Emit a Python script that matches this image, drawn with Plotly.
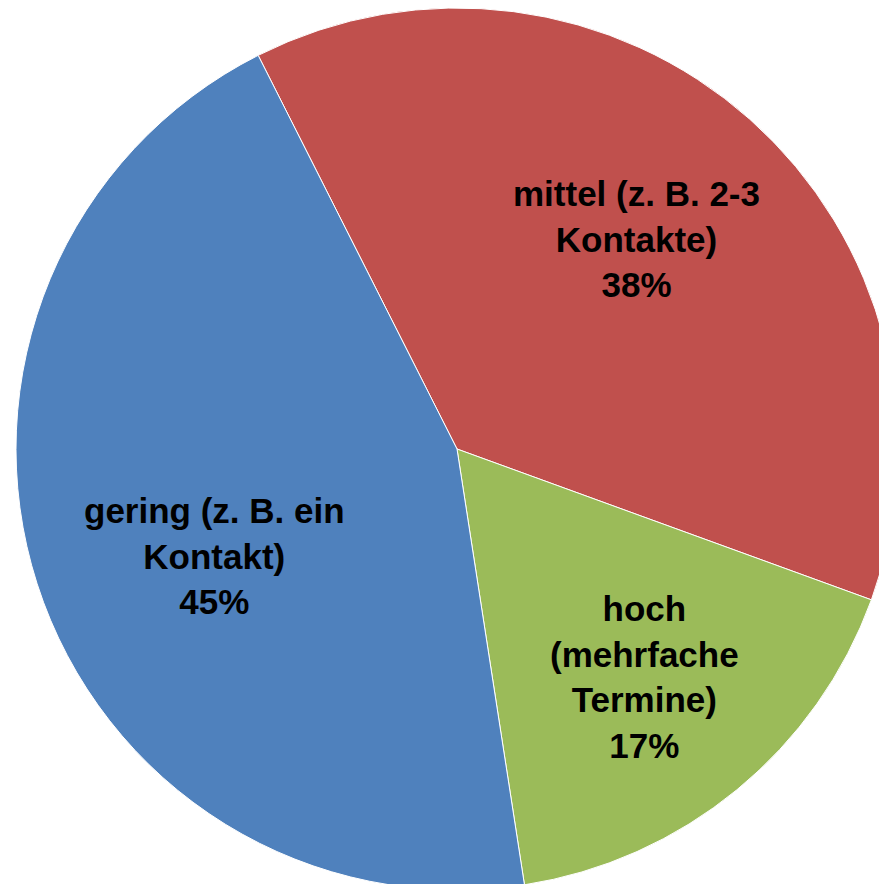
import math
import plotly.graph_objects as go

labels = ["mittel (z. B. 2-3<br>Kontakte)", "hoch<br>(mehrfache<br>Termine)", "gering (z. B. ein<br>Kontakt)"]
values = [38, 17, 45]
colors = ["#C0504D", "#9BBB59", "#4F81BD"]

# layout geometry (pixels)
W, H = 898, 890
ML, MT = 16, 8
PLOT = 882
START = -26.8           # degrees clockwise from 12 o'clock
label_r = [0.627, 0.67, 0.60]
label_da = [-1.0, 0.0, -6.0]

fig = go.Figure(go.Pie(
    labels=labels,
    values=values,
    sort=False,
    direction="clockwise",
    rotation=START,
    marker=dict(colors=colors, line=dict(color="white", width=1)),
    textinfo="none",
    showlegend=False,
    hoverinfo="skip",
))

total = sum(values)
acc = 0.0
annotations = []
for lab, v, rf, da in zip(labels, values, label_r, label_da):
    mid = START + (acc + v / 2) / total * 360 + da
    acc += v
    a = math.radians(mid)
    x = 0.5 + 0.5 * rf * math.sin(a)
    y = 0.5 + 0.5 * rf * math.cos(a)
    pct = round(v / total * 100)
    annotations.append(dict(
        x=x, y=y, xref="paper", yref="paper",
        xanchor="center", yanchor="middle",
        text=f"<b>{lab}<br>{pct}%</b>",
        showarrow=False, align="center",
        font=dict(family="Liberation Sans, Arial", size=35, color="black"),
    ))

fig.update_layout(
    width=W, height=H,
    margin=dict(l=ML, r=W - ML - PLOT, t=MT, b=H - MT - PLOT, pad=0),
    paper_bgcolor="white",
    plot_bgcolor="white",
    annotations=annotations,
)

post = """
document.body.style.margin='0';
document.body.style.overflow='hidden';
var gd=document.getElementById('{plot_id}');
var p=gd.parentElement;
p.style.width='879px'; p.style.height='884px'; p.style.overflow='hidden';
"""
fig.write_html("out.html", post_script=post, config={"displayModeBar": False})
